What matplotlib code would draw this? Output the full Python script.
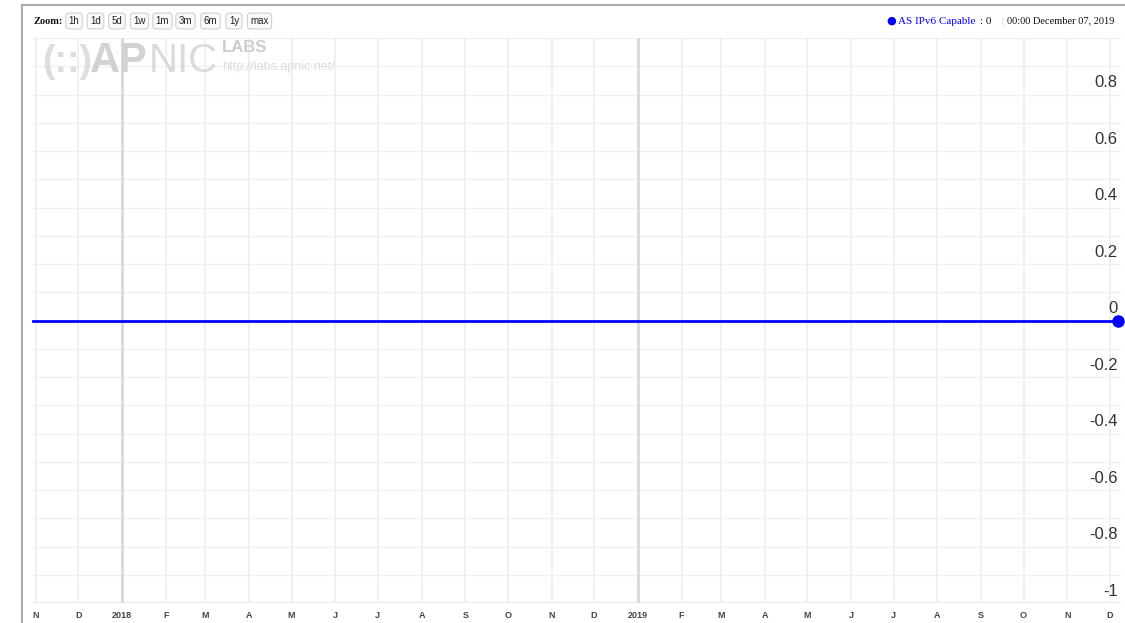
import matplotlib
matplotlib.use("Agg")
import matplotlib.pyplot as plt
import matplotlib.dates as mdates
import matplotlib.transforms as mtrans
from matplotlib.lines import Line2D
import pandas as pd

# series: AS IPv6 Capable (flat at 0 over the whole window)
dates = ["2017-10-30", "2019-12-07"]
capable = [0, 0]

month_labels = ["N", "D", "2018", "F", "M", "A", "M", "J", "J", "A", "S", "O", "N",
                "D", "2019", "F", "M", "A", "M", "J", "J", "A", "S", "O", "N", "D"]
y_labels = [0.8, 0.6, 0.4, 0.2, 0, -0.2, -0.4, -0.6, -0.8, -1]
zoom_buttons = ["1h", "1d", "5d", "1w", "1m", "3m", "6m", "1y", "max"]

W, H = 1125, 623
fig = plt.figure(figsize=(W / 100, H / 100), dpi=100)
fig.patch.set_facecolor("white")


def px(x, y):
    return x / W, 1 - y / H


# frame of the widget
fig.add_artist(Line2D([22 / W, 22 / W], [0, 1 - 5 / H], color="#aaaaaa", lw=1.5))
fig.add_artist(Line2D([22 / W, 1], [1 - 5 / H, 1 - 5 / H], color="#aaaaaa", lw=1.5))

l, r = 33, 1121
t, b = 38, 603
ax = fig.add_axes([l / W, 1 - b / H, (r - l) / W, (b - t) / H])
x = pd.to_datetime(dates)

ax.set_xlim(pd.Timestamp("2017-10-30"), pd.Timestamp("2019-12-09"))
ax.set_ylim(-1, 1)
for s in ax.spines.values():
    s.set_visible(False)

# horizontal grid every 0.1
for i in range(-10, 11):
    ax.axhline(i / 10, color="#f0f0f0", lw=1, zorder=0)
ax.axhline(-1, color="#e6e6e6", lw=1.2, zorder=0)

# month grid, year lines darker
months = pd.date_range("2017-11-01", "2019-12-01", freq="MS")
for m in months:
    if m.month == 1:
        ax.axvline(m, color="#d8d8d8", lw=2, zorder=0)
    else:
        ax.axvline(m, color="#eeeeee", lw=1.2, zorder=0)

ax.set_xticks(mdates.date2num(months))
ax.set_xticklabels(month_labels, fontsize=6.5, fontweight="bold", color="#444444",
                   family="Liberation Sans")
ax.tick_params(axis="x", length=0, pad=6)
ax.set_yticks([])

# y labels inside the plot, on the right, above the gridlines
trans = mtrans.blended_transform_factory(ax.transAxes, ax.transData)
for v in y_labels:
    ax.annotate(str(v), xy=(0.997, v), xycoords=trans, xytext=(0, 3),
                textcoords="offset points", ha="right", va="bottom",
                fontsize=12, color="#333333", family="Liberation Sans")

ax.plot(x, capable, color="#0000ff", lw=2, zorder=3, clip_on=False)
ax.plot(x[-1:], capable[-1:], "o", color="#0000ff", ms=8, zorder=4, clip_on=False)

# watermark
fig.text(*px(42, 72), "(::)", fontsize=27, color="#dddddd", family="Liberation Sans",
         fontweight="bold", va="baseline")
fig.text(*px(90, 72), "AP", fontsize=30, color="#d2d2d2", family="Liberation Sans",
         fontweight="bold", va="baseline")
fig.text(*px(149, 72), "NIC", fontsize=29, color="#dadada", family="Liberation Sans",
         va="baseline")
fig.text(*px(222, 52), "LABS", fontsize=12, color="#cccccc", family="Liberation Sans",
         fontweight="bold", va="baseline")
fig.text(*px(222, 70), "http://labs.apnic.net/", fontsize=9, color="#dddddd",
         family="Liberation Sans", va="baseline")

# zoom toolbar
fig.text(*px(33, 21), "Zoom:", fontsize=7.5, fontweight="bold", family="Liberation Serif",
         va="center", color="#111111")
btn_centers = [74, 95.5, 117, 139.5, 162.5, 185.5, 210.5, 234, 259.5]
for lab, cx in zip(zoom_buttons, btn_centers):
    fig.text(*px(cx, 21), lab, fontsize=7, family="Liberation Sans", va="center",
             ha="center", color="#222222",
             bbox=dict(boxstyle="round,pad=0.3,rounding_size=0.35", fc="#fafafa",
                       ec="#cfcfcf", lw=0.8))

# legend
fig.text(*px(886, 21), "\u25CF", fontsize=8, color="#0000ff", va="center")
fig.text(*px(898, 21), "AS IPv6 Capable", fontsize=8, color="#0000ff",
         family="Liberation Serif", va="center")
fig.text(*px(980, 21), ": 0", fontsize=8, color="#111111",
         family="Liberation Serif", va="center")
fig.text(*px(1001, 21), "|", fontsize=7, color="#bbbbbb",
         family="Liberation Serif", va="center")
fig.text(*px(1007, 21), "00:00 December 07, 2019", fontsize=7.5, color="#111111",
         family="Liberation Serif", va="center")

fig.savefig("out.png", dpi=100, facecolor="white")
